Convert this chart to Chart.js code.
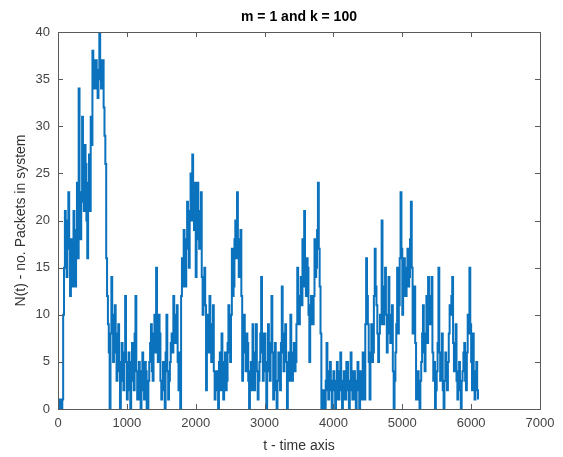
<!DOCTYPE html>
<html>
<head>
<meta charset="utf-8">
<script src="https://cdn.jsdelivr.net/npm/chart.js@4.4.1/dist/chart.umd.min.js"></script>
<style>
  html, body { margin: 0; padding: 0; background: #fff; }
  #wrap { width: 563px; height: 457px; }
</style>
</head>
<body>
<div id="wrap"><canvas id="queueChart"></canvas></div>
<script>
// N(t), one reading every 12.5 time units (t = 0 .. 6100)
var sampleStep = 12.5;
var counts = [
  0,0, 1,0, 0,1, 10,15, 21,16, 14,20, 23,17, 12,18, 16,13, 21,17, 13,19, 24,16, 34,20, 18,23, 31,22, 21,28, 26,20, 16,24, 27,21, 31,28,
  38,35, 34,37, 37,34, 33,36, 40,35, 34,37, 37,32, 29,26, 16,12, 9,6, 0,8, 14,9, 5,10, 11,6, 3,8, 9,4, 0,5, 7,3, 2,6, 12,5,
  1,4, 6,2, 0,5, 7,3, 2,8, 12,4, 1,3, 5,1, 0,4, 6,2, 1,5, 4,0, 0,3, 5,7, 9,4, 3,8, 10,6, 15,9, 5,10, 8,3,
  1,3, 5,2, 0,6, 10,4, 1,3, 5,7, 8,6, 12,8, 7,10, 11,5, 2,6, 0,12, 16,13, 19,14, 13,18, 22,17, 15,21, 25,20, 27,22, 19,24,
  14,20, 24,18, 17,21, 23,14, 10,13, 15,11, 2,10, 9,6, 12,7, 5,9, 11,4, 1,3, 4,2, 0,5, 6,2, 8,4, 1,5, 6,2, 3,7, 11,6,
  5,10, 17,12, 13,18, 20,16, 23,18, 14,17, 19,12, 3,9, 10,6, 4,8, 7,3, 0,4, 5,2, 9,5, 2,6, 9,4, 1,3, 5,8, 14,6, 3,8,
  8,4, 0,5, 9,4, 3,7, 12,6, 1,4, 7,2, 0,3, 6,3, 2,7, 13,6, 4,8, 9,5, 0,4, 6,3, 10,5, 3,6, 7,4, 5,9, 15,10,
  9,12, 14,11, 18,13, 21,15, 12,16, 15,10, 5,11, 12,9, 9,12, 18,14, 15,19, 24,17, 13,8, 0,1, 2,0, 0,3, 7,2, 1,4, 5,2, 0,3,
  4,2, 0,3, 5,1, 1,4, 6,2, 0,3, 4,1, 1,5, 5,2, 0,3, 6,2, 1,4, 4,1, 0,3, 5,2, 0,4, 4,1, 6,3, 1,9, 16,12,
  9,5, 1,6, 9,5, 6,12, 17,13, 11,8, 5,8, 10,9, 20,12, 9,13, 15,10, 6,9, 14,8, 7,10, 11,4, 0,3, 6,9, 15,8, 11,16, 23,17,
  10,14, 16,12, 12,15, 17,13, 14,18, 22,15, 8,12, 13,7, 1,3, 4,1, 0,3, 5,8, 11,6, 4,8, 12,7, 14,10, 9,12, 14,6, 3,5, 0,2,
  4,7, 15,6, 3,5, 8,2, 0,3, 6,3, 2,5, 8,11, 10,12, 14,7, 4,6, 9,3, 1,4, 5,2, 0,3, 4,6, 7,3, 2,6, 10,8, 15,9, 5,2, 8,4, 1,3, 5,2, 1
];
var times = counts.map(function (c, i) { return i * sampleStep; });

var xTicks = [0, 1000, 2000, 3000, 4000, 5000, 6000, 7000];
var yTicks = [0, 5, 10, 15, 20, 25, 30, 35, 40];

var chartTitle = 'm = 1 and k = 100';
var xLabel = 't - time axis';
var yLabel = 'N(t) - no. Packets in system';

var points = times.map(function (t, i) { return { x: t, y: counts[i] }; });

// matlab style box with inward ticks and title centred over the axes
const matlabBox = {
  id: 'matlabBox',
  afterDraw(chart) {
    const { ctx, chartArea: { top, bottom, left, right }, scales: { x, y } } = chart;
    ctx.save();
    ctx.strokeStyle = '#5a5a5a';
    ctx.lineWidth = 1;
    ctx.strokeRect(left + 0.5, top + 0.5, right - left, bottom - top);
    ctx.beginPath();
    xTicks.forEach(function (v) {
      const px = Math.round(x.getPixelForValue(v)) + 0.5;
      ctx.moveTo(px, bottom); ctx.lineTo(px, bottom - 5);
      ctx.moveTo(px, top); ctx.lineTo(px, top + 5);
    });
    yTicks.forEach(function (v) {
      const py = Math.round(y.getPixelForValue(v)) + 0.5;
      ctx.moveTo(left, py); ctx.lineTo(left + 5, py);
      ctx.moveTo(right, py); ctx.lineTo(right - 5, py);
    });
    ctx.stroke();

    ctx.font = 'bold 14px "Liberation Sans", Arial, sans-serif';
    ctx.fillStyle = '#000';
    ctx.textAlign = 'center';
    ctx.textBaseline = 'middle';
    ctx.fillText(chartTitle, (left + right) / 2, top - 15);
    ctx.restore();
  }
};

var tickFont = { family: '"Liberation Sans", Arial, sans-serif', size: 13 };

new Chart(document.getElementById('queueChart').getContext('2d'), {
  type: 'line',
  data: {
    datasets: [{
      data: points,
      borderColor: '#0b72bd',
      borderWidth: 2,
      pointRadius: 0,
      stepped: true,
      fill: false
    }]
  },
  options: {
    responsive: true,
    maintainAspectRatio: false,
    animation: false,
    layout: { padding: { top: 32, right: 23, left: 0, bottom: 0 } },
    plugins: {
      legend: { display: false },
      tooltip: { enabled: false }
    },
    scales: {
      x: {
        type: 'linear',
        min: 0,
        max: 7000,
        afterFit(s) { s.height = 48; },
        afterBuildTicks(s) { s.ticks = xTicks.map(function (v) { return { value: v }; }); },
        grid: { display: false, drawTicks: false },
        border: { display: false },
        ticks: {
          padding: 7, color: '#444', font: tickFont, maxRotation: 0,
          callback: function (v) { return String(v); }
        },
        title: {
          display: true,
          text: xLabel,
          color: '#333',
          font: { family: '"Liberation Sans", Arial, sans-serif', size: 14 },
          padding: { top: 0, bottom: 2 }
        }
      },
      y: {
        min: 0,
        max: 40,
        afterFit(s) { s.width = 58; },
        afterBuildTicks(s) { s.ticks = yTicks.map(function (v) { return { value: v }; }); },
        grid: { display: false, drawTicks: false },
        border: { display: false },
        ticks: { padding: 8, color: '#444', font: tickFont },
        title: {
          display: true,
          text: yLabel,
          color: '#333',
          font: { family: '"Liberation Sans", Arial, sans-serif', size: 14 },
          padding: { top: 13, bottom: 0 }
        }
      }
    }
  },
  plugins: [matlabBox]
});
</script>
</body>
</html>
